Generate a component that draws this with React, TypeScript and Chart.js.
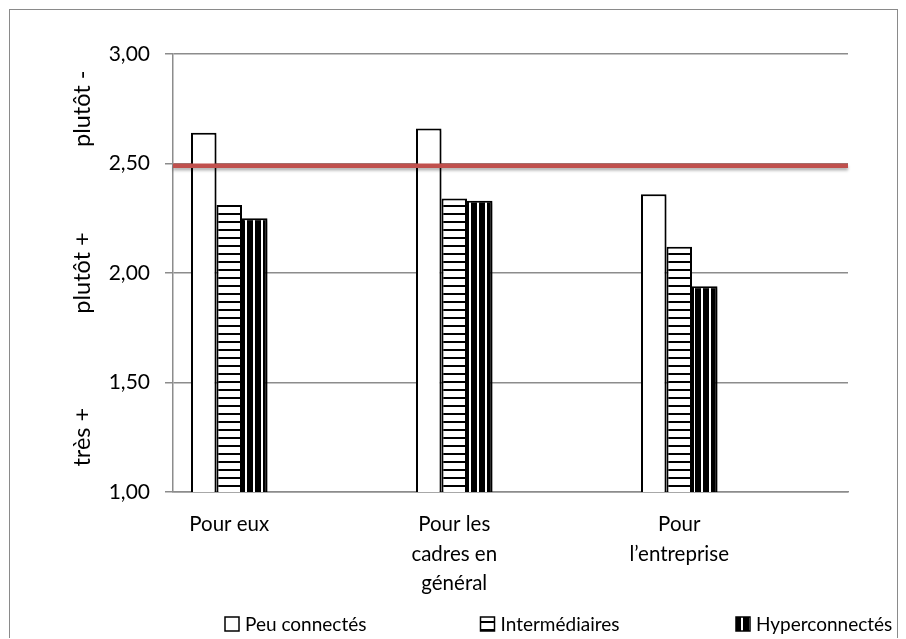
import React, { useEffect, useRef } from "react";
import { Chart, registerables } from "chart.js";

Chart.register(...registerables);

// ---- data ----
const categories: string[][] = [
  ["Pour eux"],
  ["Pour les", "cadres en", "général"],
  ["Pour", "l’entreprise"],
];
const seriesNames = ["Peu connectés", "Intermédiaires", "Hyperconnectés"];
const peuConnectes = [2.64, 2.66, 2.36];
const intermediaires = [2.31, 2.34, 2.12];
const hyperconnectes = [2.25, 2.33, 1.94];
const seuil = 2.49;
const yMin = 1;
const yMax = 3;
const yStep = 0.5;
const bandLabels = ["très +", "plutôt +", "plutôt -"];
const bandValues = [1.25, 2.0, 2.75];

// ---- style ----
const FONT = "Lato, 'Open Sans', sans-serif";
const TICK_SIZE = 21;
const BAND_SIZE = 23.5;
const CAT_SIZE = 20.5;
const LEGEND_SIZE = 19;
const GRID = "#8c8c8c";
const CANVAS_W = 887;
const CANVAS_H = 629;
const LEGEND_X0 = 215;
const LEGEND_STEP = 255.5;
const BAND_X = 72;

// each category is followed by an empty slot (Excel leaves room on the right of the group)
const slotLabels = categories.flatMap((c) => [c, ""]);
const spread = (values: number[]) => values.flatMap((v) => [v, null]);

function makePattern(ctx: CanvasRenderingContext2D, kind: "plain" | "h" | "v"): any {
  if (kind === "plain") return "#ffffff";
  const tile = document.createElement("canvas");
  tile.width = 8;
  tile.height = 8;
  const g = tile.getContext("2d")!;
  if (kind === "h") {
    g.fillStyle = "#ffffff";
    g.fillRect(0, 0, 8, 8);
    g.fillStyle = "#000000";
    g.fillRect(0, 3, 8, 2);
  } else {
    g.fillStyle = "#000000";
    g.fillRect(0, 0, 8, 8);
    g.fillStyle = "#ffffff";
    g.fillRect(3, 0, 2, 8);
  }
  return ctx.createPattern(tile, "repeat");
}

const shadowPlugin = {
  id: "softShadow",
  beforeDatasetsDraw(chart: any) {
    const ctx = chart.ctx;
    ctx.save();
    ctx.shadowColor = "rgba(0,0,0,0.28)";
    ctx.shadowBlur = 3;
    ctx.shadowOffsetX = 1.5;
    ctx.shadowOffsetY = 2;
  },
  afterDatasetsDraw(chart: any) {
    chart.ctx.restore();
  },
};

// horizontal reference line drawn through the y scale across the whole plot
const thresholdPlugin = {
  id: "threshold",
  afterDatasetsDraw(chart: any) {
    const ctx = chart.ctx;
    const area = chart.chartArea;
    const py = chart.scales.y.getPixelForValue(seuil);
    ctx.save();
    ctx.shadowColor = "rgba(0,0,0,0.3)";
    ctx.shadowBlur = 3;
    ctx.shadowOffsetY = 2.5;
    ctx.strokeStyle = "#C0504D";
    ctx.lineWidth = 4.5;
    ctx.beginPath();
    ctx.moveTo(area.left, py);
    ctx.lineTo(area.right, py);
    ctx.stroke();
    ctx.restore();
  },
};

const bandPlugin = {
  id: "bandLabels",
  afterDraw(chart: any) {
    const ctx = chart.ctx;
    const y = chart.scales.y;
    ctx.save();
    ctx.font = `${BAND_SIZE}px ${FONT}`;
    ctx.fillStyle = "#000000";
    ctx.textAlign = "center";
    ctx.textBaseline = "middle";
    bandLabels.forEach((t, i) => {
      const py = y.getPixelForValue(bandValues[i]);
      ctx.save();
      ctx.translate(BAND_X, py);
      ctx.rotate(-Math.PI / 2);
      ctx.fillText(t, 0, 0);
      ctx.restore();
    });
    ctx.restore();
  },
};

const legendPlugin = {
  id: "excelLegend",
  afterDraw(chart: any) {
    const ctx = chart.ctx;
    const cy = chart.height - 15;
    const bars = chart.data.datasets;
    ctx.save();
    ctx.font = `${LEGEND_SIZE}px ${FONT}`;
    ctx.textBaseline = "middle";
    ctx.textAlign = "left";
    bars.forEach((d: any, i: number) => {
      const x = LEGEND_X0 + i * LEGEND_STEP;
      ctx.fillStyle = d.backgroundColor;
      ctx.fillRect(x, cy - 7, 14, 14);
      ctx.strokeStyle = "#000000";
      ctx.lineWidth = 1.5;
      ctx.strokeRect(x, cy - 7, 14, 14);
      ctx.fillStyle = "#000000";
      ctx.fillText(d.label, x + 20, cy + 1);
    });
    ctx.restore();
  },
};

export default function App() {
  const canvasRef = useRef<HTMLCanvasElement | null>(null);

  useEffect(() => {
    const canvas = canvasRef.current;
    if (!canvas) return;
    const ctx = canvas.getContext("2d")!;
    const fills = [makePattern(ctx, "plain"), makePattern(ctx, "h"), makePattern(ctx, "v")];
    const series = [peuConnectes, intermediaires, hyperconnectes];

    const chart = new Chart(canvas, {
      type: "bar",
      data: {
        labels: slotLabels as any,
        datasets: series.map((vals, i) => ({
          label: seriesNames[i],
          data: spread(vals),
          backgroundColor: fills[i],
          borderColor: "#000000",
          borderWidth: 2,
        })) as any,
      },
      options: {
        responsive: false,
        animation: false,
        maintainAspectRatio: false,
        layout: { padding: { top: 44, right: 49, left: 0, bottom: 0 } },
        plugins: {
          legend: { display: false },
          tooltip: { enabled: false },
        },
        datasets: {
          bar: { categoryPercentage: 0.68, barPercentage: 1 },
        },
        scales: {
          x: {
            type: "category",
            offset: true,
            afterFit: (s: any) => {
              s.height = 147;
              s.paddingLeft = 0;
              s.paddingRight = 0;
            },
            grid: { display: false },
            border: { display: true, color: GRID, width: 1.5 },
            ticks: {
              autoSkip: false,
              maxRotation: 0,
              minRotation: 0,
              padding: 10,
              color: "#000000",
              font: { family: FONT, size: CAT_SIZE, lineHeight: 1.44 },
            },
          },
          y: {
            min: yMin,
            max: yMax,
            afterFit: (s: any) => {
              s.width = 163;
              s.paddingTop = 0;
              s.paddingBottom = 0;
            },
            grid: { color: GRID, lineWidth: 1.5, tickLength: 8, drawTicks: true },
            border: { display: true, color: GRID, width: 1.5 },
            ticks: {
              stepSize: yStep,
              padding: 15,
              color: "#000000",
              font: { family: FONT, size: TICK_SIZE },
              callback: (v: any) => Number(v).toFixed(2).replace(".", ","),
            },
          },
        },
      } as any,
      plugins: [shadowPlugin, thresholdPlugin, bandPlugin, legendPlugin],
    });
    return () => chart.destroy();
  }, []);

  return (
    <div
      style={{
        position: "relative",
        top: 1,
        left: 1,
        width: CANVAS_W,
        height: CANVAS_H,
        border: "1px solid #8a8a8a",
        borderBottom: "none",
        background: "#ffffff",
      }}
    >
      <canvas ref={canvasRef} width={CANVAS_W} height={CANVAS_H} style={{ display: "block" }} />
    </div>
  );
}
